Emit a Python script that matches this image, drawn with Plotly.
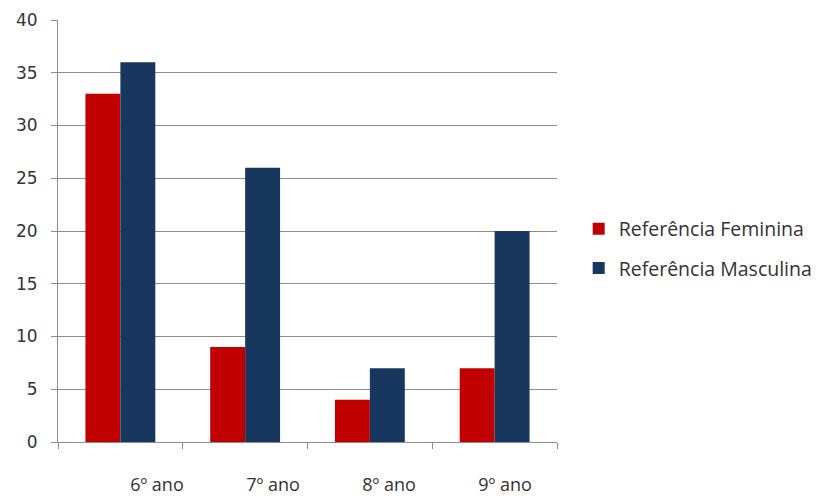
import plotly.graph_objects as go

# Série escolar e contagens por referência
series_labels = ["6º ano", "7º ano", "8º ano", "9º ano"]
feminina = [33, 9, 4, 7]
masculina = [36, 26, 7, 20]
y_ticks = [0, 5, 10, 15, 20, 25, 30, 35, 40]

RED = "#C00000"
BLUE = "#17375E"
GRID = "#8c8c8c"
TEXT = "#333333"
FONT = "Open Sans"

fig = go.Figure()
fig.add_trace(go.Bar(
    name="Referência Feminina", x=series_labels, y=feminina,
    marker=dict(color=RED, line=dict(width=0)), legendgroup="f",
))
fig.add_trace(go.Bar(
    name="Referência Masculina", x=series_labels, y=masculina,
    marker=dict(color=BLUE, line=dict(width=0)), legendgroup="m",
))

# Rótulos das séries em um eixo auxiliar, deslocados à direita como no gráfico do Excel
fig.add_trace(go.Scatter(x=[0, 3], y=[None, None], xaxis="x2", showlegend=False,
                         hoverinfo="skip"))

fig.update_layout(
    width=822, height=497,
    margin=dict(l=58, r=265, t=20, b=55, autoexpand=False),
    paper_bgcolor="white", plot_bgcolor="white",
    barmode="group", bargap=0.44, bargroupgap=0,
    font=dict(family=FONT, color=TEXT),
    xaxis=dict(
        type="category", showticklabels=False, showgrid=False,
        showline=True, linecolor=GRID, linewidth=1,
        ticks="outside", tickson="boundaries", ticklen=6, tickcolor=GRID,
        range=[-0.5, 3.5],
    ),
    xaxis2=dict(
        overlaying="x", anchor="y", side="bottom",
        range=[-0.853, 3.448], showgrid=False, showline=False, zeroline=False,
        ticks="", tickvals=[0, 1, 2, 3], ticktext=series_labels,
        tickfont=dict(family=FONT, size=18, color=TEXT),
        ticklabelstandoff=30,
    ),
    yaxis=dict(
        range=[0, 40], tickvals=y_ticks, showgrid=True, gridcolor=GRID, gridwidth=1,
        showline=True, linecolor=GRID, linewidth=1, zeroline=False,
        ticks="outside", ticklen=6, tickcolor=GRID,
        tickfont=dict(family="DejaVu Sans", size=17, color=TEXT),
        ticklabelstandoff=10,
    ),
    legend=dict(
        xref="container", yref="container", x=0.704, y=0.5,
        xanchor="left", yanchor="middle",
        font=dict(family=FONT, size=19.5, color=TEXT),
        tracegroupgap=11, itemwidth=30, bgcolor="rgba(0,0,0,0)",
    ),
    showlegend=True,
)

fig.write_html("out.html")
